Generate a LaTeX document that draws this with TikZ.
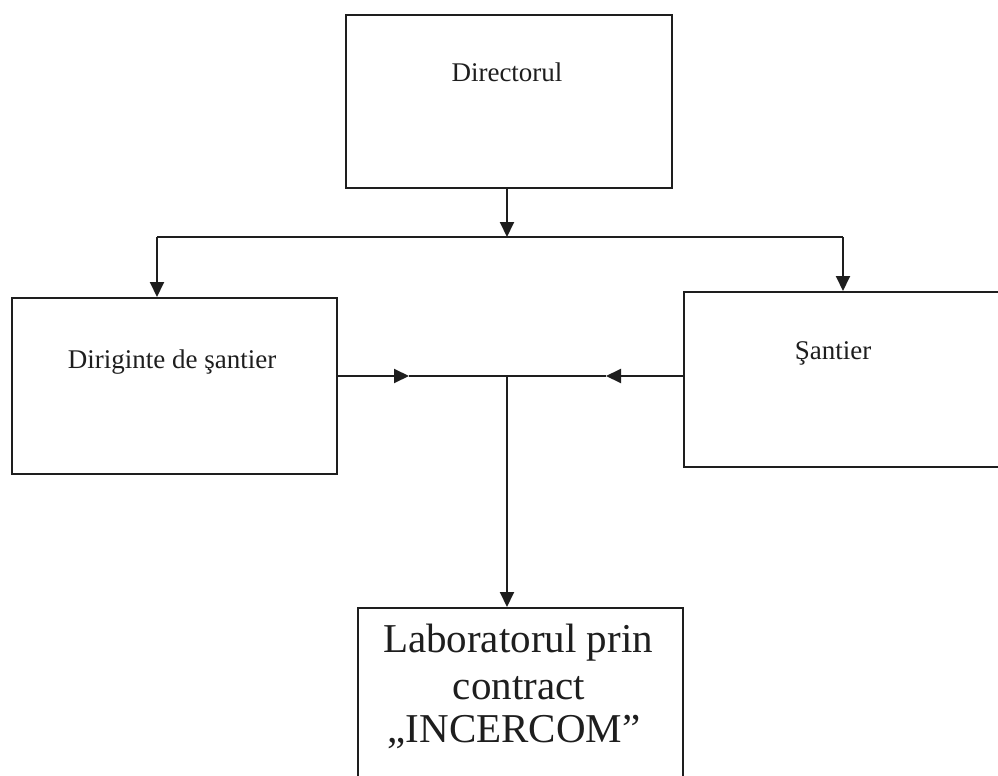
\documentclass[tikz,border=0pt]{standalone}
\usepackage{fontspec}
\setmainfont{Liberation Serif}
\usetikzlibrary{arrows.meta}
\definecolor{ink}{HTML}{1E1E1E}
\begin{document}
\begin{tikzpicture}[x=0.5pt,y=-0.5pt,
  box/.style={draw=ink,line width=1pt,rectangle,anchor=north west,inner sep=0pt},
  txt/.style={text=ink,anchor=base,inner sep=0pt,font=\fontsize{13.5}{16}\selectfont},
  bigtxt/.style={text=ink,anchor=base,inner sep=0pt,font=\fontsize{20.5}{22.5}\selectfont},
  conn/.style={draw=ink,line width=1pt},
  arr/.style={conn,-{Triangle[length=7.5pt,width=7pt]}}]
\useasboundingbox (0,0) rectangle (998,776);
\clip (0,0) rectangle (998,776);
\fill[white] (0,0) rectangle (998,776);
% boxes
\node[box,minimum width=163pt,minimum height=86.5pt] (dir) at (345,14) {};
\node[box,minimum width=162.5pt,minimum height=88pt] (dg) at (11,297) {};
\node[box,minimum width=168.5pt,minimum height=87.5pt] (st) at (683,291) {};
\node[box,minimum width=162.5pt,minimum height=96.5pt] (lab) at (357,607) {};
% texts
\node[txt] (tdir) at (507,82) {Directorul};
\node[txt] (tdg) at (172,368) {Diriginte de şantier};
\node[txt] (tst) at (833,359) {Şantier};
\node[bigtxt] (lab1) at (518,652) {Laboratorul prin};
\node[bigtxt] (lab2) at (519,699) {contract};
\node[bigtxt] (lab3) at (514,742) {„INCERCOM”};
% connectors
\coordinate (j) at (507,237);
\coordinate (jl) at (157,237);
\coordinate (jr) at (843,237);
\coordinate (m) at (507,376);
\coordinate (ma) at (409,376);
\coordinate (mb) at (606,376);
\draw[arr] (dir.south -| j) -- (j);
\draw[conn] (jl) -- (jr);
\draw[arr] (jl) -- (jl |- dg.north);
\draw[arr] (jr) -- (jr |- st.north);
\draw[arr] (dg.east |- m) -- (ma);
\draw[conn] (ma) -- (m);
\draw[arr] (st.west |- m) -- (mb);
\draw[conn] (mb) -- (m);
\draw[arr] (m) -- (m |- lab.north);
\end{tikzpicture}
\end{document}
